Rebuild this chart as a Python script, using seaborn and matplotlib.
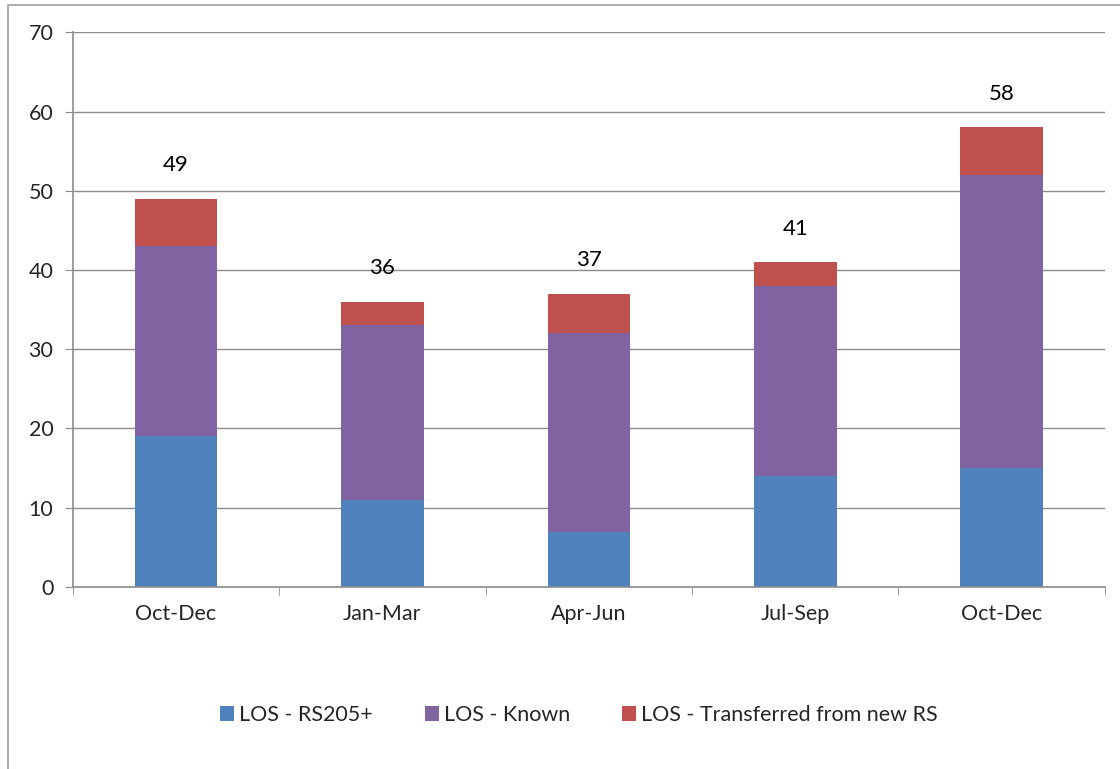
import pandas as pd
import numpy as np
import matplotlib.pyplot as plt
import seaborn as sns
from matplotlib.patches import Rectangle, Patch

# Data
quarters = ['Oct-Dec', 'Jan-Mar', 'Apr-Jun', 'Jul-Sep', 'Oct-Dec ']
rs205 = [19, 11, 7, 14, 15]
known = [24, 22, 25, 24, 37]
transferred = [6, 3, 5, 3, 6]
series_names = ['LOS - RS205+', 'LOS - Known', 'LOS - Transferred from new RS']
colors = ['#4F81BD', '#8064A2', '#C0504D']

sns.set_style('white')
plt.rcParams['font.family'] = ['Lato', 'DejaVu Sans']

df = pd.DataFrame({'quarter': quarters, 'rs205': rs205, 'known': known, 'transferred': transferred})
df['base2'] = df['rs205'] + df['known']
df['total'] = df['base2'] + df['transferred']

fig = plt.figure(figsize=(11.2, 7.69), dpi=100)
ax = fig.add_axes([0.065, 0.2367, 0.9215, 0.7213])

sns.barplot(data=df, x='quarter', y='rs205', color=colors[0], width=0.4, ax=ax,
            saturation=1, order=quarters, linewidth=0)
sns.barplot(data=df, x='quarter', y='known', bottom=df['rs205'], color=colors[1], width=0.4, ax=ax,
            saturation=1, order=quarters, linewidth=0)
sns.barplot(data=df, x='quarter', y='transferred', bottom=df['base2'], color=colors[2], width=0.4, ax=ax,
            saturation=1, order=quarters, linewidth=0)

for i, t in enumerate(df['total']):
    ax.annotate(str(t), (i, t), xytext=(0, 24), textcoords='offset points',
                ha='center', va='center', fontsize=16, color='black')

ax.set_xlim(-0.5, len(quarters) - 0.5)
ax.set_ylim(0, 70)
ax.set_yticks(range(0, 71, 10))
ax.yaxis.grid(True, color='#8c8c8c', linewidth=1)
ax.set_axisbelow(True)
ax.set_xlabel('')
ax.set_ylabel('')
ax.set_xticks(range(len(quarters)))
ax.set_xticklabels([q.strip() for q in quarters])
ax.set_xticks(np.arange(-0.5, len(quarters), 1), minor=True)
ax.tick_params(axis='x', which='major', length=0, pad=12, labelsize=15.5)
ax.tick_params(axis='x', which='minor', length=6, color='#8c8c8c', direction='out', bottom=True)
ax.tick_params(axis='y', length=6, color='#8c8c8c', direction='out', left=True, labelsize=15.5, pad=8)
for s in ['top', 'right']:
    ax.spines[s].set_visible(False)
for s in ['left', 'bottom']:
    ax.spines[s].set_color('#8c8c8c')
    ax.spines[s].set_linewidth(1.2)

handles = [Patch(facecolor=c, edgecolor='none') for c in colors]
fig.legend(handles, series_names, loc='center', bbox_to_anchor=(0.517, 0.07), ncol=3,
           frameon=False, fontsize=15.5, handlelength=0.65, handleheight=0.65,
           handletextpad=0.25, columnspacing=2.4)

# outer chart border
fig.patches.append(Rectangle((8 / 1120, -0.1), 1.2, 1 - 5 / 769 + 0.1, transform=fig.transFigure,
                             fill=False, edgecolor='#a0a0a0', linewidth=1.2))

fig.savefig('out.png', dpi=100)
